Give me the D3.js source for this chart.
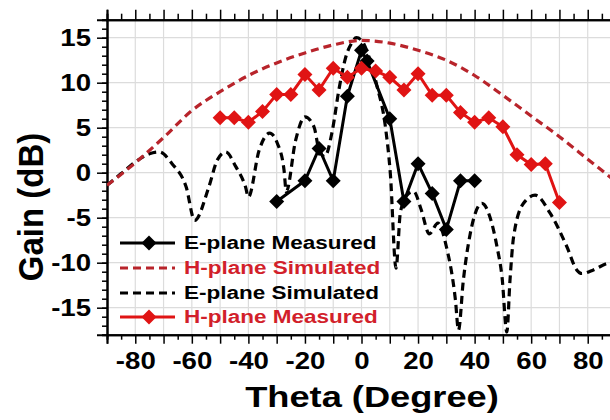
<!DOCTYPE html>
<html>
<head>
<meta charset="utf-8">
<script src="https://cdn.jsdelivr.net/npm/d3@7"></script>
<style>
body { margin: 0; background: #fff; }
text { font-family: "Liberation Sans", Arial, sans-serif; font-weight: bold; }
</style>
</head>
<body>
<div id="chart"></div>
<script>
// H-plane measured (red diamonds)
const hMeasTheta = [-50,-45,-40,-35,-30,-25,-20,-15,-10,-5,0,5,10,15,20,25,30,35,40,45,50,55,60,65,70];
const hMeasGain  = [6.1,6.1,5.6,6.8,8.7,8.7,10.9,9.2,11.6,10.6,11.6,11.3,10.6,9.2,11.0,8.6,8.6,6.7,5.6,6.1,5.1,2.0,0.9,1.0,-3.3];

// E-plane measured (black diamonds)
const eMeasTheta = [-30,-20,-15,-10,-5,0,2,10,15,20,25,30,35,40];
const eMeasGain  = [-3.2,-0.9,2.7,-0.9,8.5,13.6,12.4,6.0,-3.2,1.0,-2.3,-6.3,-0.9,-0.9];

// H-plane simulated (red dashed)
const hSimTheta = [-90,-80,-70,-60,-50,-40,-30,-20,-10,0,10,20,30,40,50,60,70,80,90];
const hSimGain  = [-1.4,1.1,3.9,6.9,9.0,10.8,12.2,13.3,14.2,14.7,14.4,13.6,12.5,10.8,8.6,6.3,4.0,1.5,-1.0];

// E-plane simulated (black dashed)
const eSimTheta = [-90,-85,-80,-75,-71.5,-67,-62,-59,-54,-51,-48,-44.5,-41,-40,-36.2,-32.5,-29.8,-27.4,-26.6,-23.3,-20,-16.8,-15,-13,-10.3,-8,-5.6,-3.5,-1.8,0,2.6,5.5,8.5,10.2,12.2,13.8,16.7,18.5,21,24,27,30,33.2,34.3,36,38.5,42.6,45.5,47.9,49.7,51.4,52.5,53.8,57.3,61.4,66.7,72.6,76.1,77.9,82,86.7,90];
const eSimGain  = [-1.4,-0.1,1.2,2.1,2.3,1.0,-1.6,-5.3,-1.6,1.4,2.3,0.7,-1.6,-2.7,2.5,4.4,3.3,0.3,-2.1,3.6,6.2,5.1,2.5,1.8,4.7,9.2,12.8,14.4,15.0,14.7,12.9,9.6,5.0,-0.1,-10.6,-4.3,-2.3,-2.1,-4.0,-6.8,-5.6,-8.2,-14.1,-17.5,-12.0,-6.7,-3.4,-5.0,-8.2,-11.6,-17.7,-12.0,-7.1,-3.4,-2.5,-4.5,-8.2,-10.8,-11.2,-10.8,-10.1,-9.9];

const xTickValues = [-80,-60,-40,-20,0,20,40,60,80];
const yTickValues = [-15,-10,-5,0,5,10,15];
const legendLabels = ["E-plane Measured","H-plane Simulated","E-plane Simulated","H-plane Measured"];

const width = 610, height = 420;
const stretch = 1.2;   // the picture is a bit wider than tall, text included
const red = "#e01414", darkRed = "#b8242b", redText = "#d21f2b";

const svg = d3.select('#chart')
    .append('svg')
    .attr('width', width)
    .attr('height', height)
    .style('background', '#fff');

const x = d3.scaleLinear().domain([-90, 90]).range([107, 616]);
const y = d3.scaleLinear().domain([-18, 17]).range([334.7, 19.7]);

// Grid
svg.append('g')
    .selectAll('line')
    .data(d3.range(-80, 90, 10))
    .join('line')
    .attr('x1', d => x(d)).attr('x2', d => x(d))
    .attr('y1', y(17)).attr('y2', y(-18))
    .attr('stroke', '#dcdcdc').attr('stroke-width', 1.2);

svg.append('g')
    .selectAll('line')
    .data(yTickValues)
    .join('line')
    .attr('x1', x(-90)).attr('x2', x(90))
    .attr('y1', d => y(d)).attr('y2', d => y(d))
    .attr('stroke', '#dcdcdc').attr('stroke-width', 1.2);

// Axes: minor ticks first, then major ticks with labels
function styleAxis(g) {
    g.select('.domain').attr('stroke', '#000').attr('stroke-width', 2);
    g.selectAll('.tick line').attr('stroke', '#000').attr('stroke-width', 1.5);
}

svg.append('g')
    .attr('transform', `translate(0,${y(-18)})`)
    .call(d3.axisBottom(x).tickValues(d3.range(-85, 90, 10)).tickSize(5).tickFormat(''))
    .call(styleAxis);
svg.append('g')
    .attr('transform', `translate(0,${y(-18)})`)
    .call(d3.axisBottom(x).tickValues(d3.range(-90, 91, 10)).tickSize(9).tickPadding(9)
        .tickFormat(d => xTickValues.includes(d) ? String(d) : ''))
    .call(styleAxis)
    .call(g => g.selectAll('text')
        .attr('fill', '#000')
        .style('font-size', '23px')
        .attr('transform', `scale(${stretch},1)`));

svg.append('g')
    .attr('transform', `translate(0,${y(17)})`)
    .call(d3.axisTop(x).tickValues(d3.range(-85, 90, 10)).tickSize(6).tickFormat(''))
    .call(styleAxis);
svg.append('g')
    .attr('transform', `translate(0,${y(17)})`)
    .call(d3.axisTop(x).tickValues(d3.range(-90, 91, 10)).tickSize(10).tickFormat(''))
    .call(styleAxis);

svg.append('g')
    .attr('transform', `translate(${x(-90)},0)`)
    .call(d3.axisLeft(y).tickValues(d3.range(-18, 18, 1)).tickSize(5).tickFormat(''))
    .call(styleAxis);
svg.append('g')
    .attr('transform', `translate(${x(-90)},0)`)
    .call(d3.axisLeft(y).tickValues(yTickValues).tickSize(10).tickFormat(d => String(d)))
    .call(styleAxis)
    .call(g => g.selectAll('text')
        .attr('fill', '#000')
        .attr('x', -16 / stretch)
        .style('font-size', '23px')
        .attr('transform', `scale(${stretch},1)`));

// Curves
svg.append('clipPath').attr('id', 'plot-clip')
    .append('rect')
    .attr('x', x(-90)).attr('y', y(17))
    .attr('width', x(90) - x(-90)).attr('height', y(-18) - y(17));

const plot = svg.append('g').attr('clip-path', 'url(#plot-clip)');

const simLine = d3.line()
    .x(d => x(d[0]))
    .y(d => y(d[1]))
    .curve(d3.curveMonotoneX);

const measLine = d3.line()
    .x(d => x(d[0]))
    .y(d => y(d[1]));

plot.append('path')
    .datum(d3.zip(eSimTheta, eSimGain))
    .attr('d', simLine)
    .attr('fill', 'none')
    .attr('stroke', '#000')
    .attr('stroke-width', 3.2)
    .attr('stroke-dasharray', '8,5');

plot.append('path')
    .datum(d3.zip(hSimTheta, hSimGain))
    .attr('d', simLine)
    .attr('fill', 'none')
    .attr('stroke', darkRed)
    .attr('stroke-width', 3.2)
    .attr('stroke-dasharray', '8,5');

function diamond(cx, cy, r) {
    return `M${cx},${cy - r}L${cx + r},${cy}L${cx},${cy + r}L${cx - r},${cy}Z`;
}

function drawMeasured(theta, gain, color) {
    let pts = d3.zip(theta, gain);
    plot.append('path')
        .datum(pts)
        .attr('d', measLine)
        .attr('fill', 'none')
        .attr('stroke', color)
        .attr('stroke-width', 3);
    plot.append('g')
        .selectAll('path')
        .data(pts)
        .join('path')
        .attr('d', d => diamond(x(d[0]), y(d[1]), 7.5))
        .attr('fill', color);
}

drawMeasured(eMeasTheta, eMeasGain, '#000');
drawMeasured(hMeasTheta, hMeasGain, red);

// Legend
const legendRows = [243, 268, 293, 317];
const legendStyle = [
    { color: '#000', dash: null, marker: true, text: '#000' },
    { color: darkRed, dash: '8,5', marker: false, text: redText },
    { color: '#000', dash: '8,5', marker: false, text: '#000' },
    { color: red, dash: null, marker: true, text: redText }
];

legendLabels.forEach((label, i) => {
    let s = legendStyle[i];
    let ly = legendRows[i];
    let row = svg.append('g');
    row.append('line')
        .attr('x1', 120).attr('x2', 175)
        .attr('y1', ly).attr('y2', ly)
        .attr('stroke', s.color)
        .attr('stroke-width', 3)
        .attr('stroke-dasharray', s.dash);
    if (s.marker) {
        row.append('path')
            .attr('d', diamond(149, ly, 7.5))
            .attr('fill', s.color);
    }
    row.append('g')
        .attr('transform', `translate(184,${ly}) scale(1.25,1)`)
        .append('text')
        .attr('dy', '0.36em')
        .attr('fill', s.text)
        .style('font-size', '18px')
        .text(label);
});

// Axis titles
svg.append('g')
    .attr('transform', `translate(372,407) scale(1.25,1)`)
    .append('text')
    .attr('text-anchor', 'middle')
    .style('font-size', '29px')
    .text('Theta (Degree)');

svg.append('g')
    .attr('transform', `translate(43,207) scale(1.05,1) rotate(-90)`)
    .append('text')
    .attr('text-anchor', 'middle')
    .style('font-size', '33px')
    .text('Gain (dB)');
</script>
</body>
</html>
